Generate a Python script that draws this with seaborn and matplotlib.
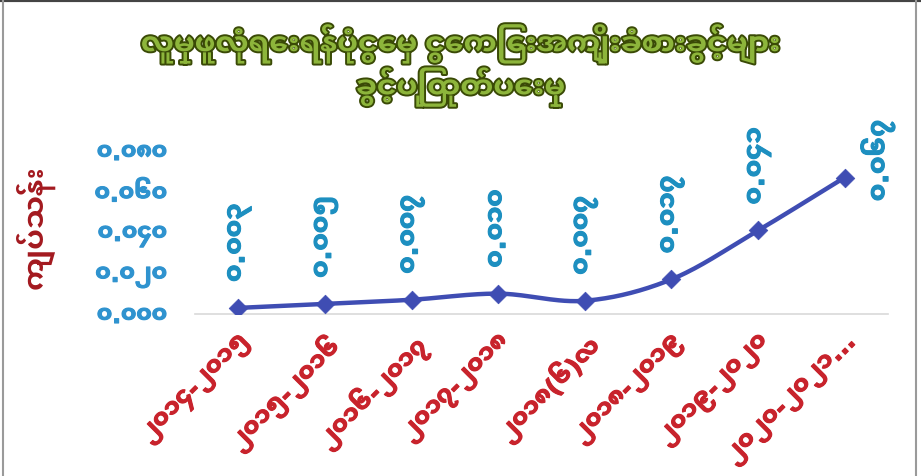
import numpy as np
import pandas as pd
import seaborn as sns
import matplotlib
matplotlib.use("Agg")
import matplotlib.pyplot as plt
import matplotlib.patheffects as pe
from matplotlib import font_manager as fm
from matplotlib.lines import Line2D

# ---------------- data ----------------
title_line1 = "လူမှုဖူလုံရေးရန်ပုံငွေမှ ငွေကြေးအကျိုးခံစားခွင့်များ"
title_line2 = "ခွင့်ပြုထုတ်ပေးမှု"
y_title = "ကျပ်သန်း"
categories = ["၂၀၁၄-၂၀၁၅", "၂၀၁၅-၂၀၁၆", "၂၀၁၆-၂၀၁၇", "၂၀၁၇-၂၀၁၈",
              "၂၀၁၈(၆)လ", "၂၀၁၈-၂၀၁၉", "၂၀၁၉-၂၀၂၀", "၂၀၂၀-၂၀၂၁..."]
values = [0.003, 0.005, 0.007, 0.010, 0.0065, 0.017, 0.041, 0.067]
value_labels = ["၀.၀၀၃", "၀.၀၀၅", "၀.၀၀၇", "၀.၀၁၀",
                "၀.၀၀၇", "၀.၀၁၇", "၀.၀၄၁", "၀.၀၆၇"]
y_ticks = [0.000, 0.020, 0.040, 0.060, 0.080]
y_tick_labels = ["၀.၀၀၀", "၀.၀၂၀", "၀.၀၄၀", "၀.၀၆၀", "၀.၀၈၀"]

# ---------------- font search (Myanmar glyphs) ----------------
families = ["DejaVu Sans"]
try:
    from fontTools.ttLib import TTFont
    cands = []
    for f in fm.fontManager.ttflist:
        try:
            tt = TTFont(f.fname, fontNumber=0, lazy=True)
            cm = tt.getBestCmap()
            if cm and 0x101C in cm and 0x1041 in cm:
                w = f.weight if isinstance(f.weight, int) else 400
                cands.append((abs(w - 700), f.name))
        except Exception:
            pass
    if cands:
        cands.sort()
        families = [cands[0][1], "DejaVu Sans"]
except Exception:
    pass

sns.set_theme(style="white")
plt.rcParams["font.family"] = families

fig = plt.figure(figsize=(9.21, 4.77), dpi=100)
renderer = fig.canvas.get_renderer()


def fit_size(s, target_px, fs0=14.0):
    t = fig.text(0, 0, s, fontsize=fs0, fontweight="bold")
    w = t.get_window_extent(renderer).width
    t.remove()
    return fs0 * target_px / max(w, 1.0)


fs_title = fit_size(title_line1, 640)
fs_ytick = fit_size(y_tick_labels[0], 70)
fs_xtick = fit_size(categories[0], 142)
fs_val = fit_size(value_labels[0], 78)
fs_ylab = fit_size(y_title, 124)

ax = fig.add_axes([0.2117, 0.3396, 0.7524, 0.3417])

x = np.arange(len(values), dtype=float)
y = np.array(values, dtype=float)


# smoothed connecting curve (Catmull-Rom, like a spreadsheet "smoothed line")
def catmull(xp, yp, n=30):
    px = np.concatenate([[2 * xp[0] - xp[1]], xp, [2 * xp[-1] - xp[-2]]])
    py = np.concatenate([[2 * yp[0] - yp[1]], yp, [2 * yp[-1] - yp[-2]]])
    xs, ys = [], []
    for i in range(1, len(px) - 2):
        t = np.linspace(0, 1, n, endpoint=False)
        for arr, out in ((px, xs), (py, ys)):
            p0, p1, p2, p3 = arr[i - 1], arr[i], arr[i + 1], arr[i + 2]
            out.append(0.5 * ((2 * p1) + (-p0 + p2) * t
                              + (2 * p0 - 5 * p1 + 4 * p2 - p3) * t ** 2
                              + (-p0 + 3 * p1 - 3 * p2 + p3) * t ** 3))
    xs = np.concatenate(xs + [[xp[-1]]])
    ys = np.concatenate(ys + [[yp[-1]]])
    return xs, ys


sx, sy = catmull(x, y)
line_color = "#3f4db3"
sns.lineplot(x=sx, y=sy, ax=ax, color=line_color, linewidth=3.2, sort=False)
sns.scatterplot(x=x, y=y, ax=ax, color=line_color, marker="D", s=90,
                edgecolor=line_color, linewidth=0.5, zorder=5)

ax.set_xlim(-0.5, len(values) - 0.5)
ax.set_ylim(0, 0.08)
ax.set_yticks(y_ticks)
tick_blue = "#2f93cf"
ax.set_yticklabels(y_tick_labels, color=tick_blue, fontsize=fs_ytick, fontweight="bold")
for t in ax.get_yticklabels():
    t.set_path_effects([pe.withStroke(linewidth=0.8, foreground=tick_blue)])
ax.set_xticks(x)
xred = "#c8232c"
ax.set_xticklabels(categories, color=xred, fontsize=fs_xtick, fontweight="bold",
                   rotation=45, ha="right", rotation_mode="anchor")
for t in ax.get_xticklabels():
    t.set_path_effects([pe.withStroke(linewidth=0.8, foreground=xred)])
ax.tick_params(axis="y", length=0, pad=20)
ax.tick_params(axis="x", length=0, pad=12)
for s in ["top", "right", "left"]:
    ax.spines[s].set_visible(False)
ax.spines["bottom"].set_color("#d9d9d9")
ax.spines["bottom"].set_linewidth(1.2)
ax.set_xlabel("")
ylab_red = "#a3191f"
ax.set_ylabel(y_title, color=ylab_red, fontsize=fs_ylab, fontweight="bold")
ax.yaxis.set_label_coords(-0.202, 0.54)
ax.grid(False)

lab_color = "#1d8fc0"
for i, (xi, yi, lab) in enumerate(zip(x, y, value_labels)):
    fx = [pe.withStroke(linewidth=0.8, foreground=lab_color)]
    if i == len(values) - 1:
        ax.annotate(lab, (xi, yi), xytext=(33, 17), textcoords="offset pixels",
                    rotation=90, ha="center", va="center", color=lab_color,
                    fontsize=fs_val, fontweight="bold", path_effects=fx)
    else:
        ax.annotate(lab, (xi, yi), xytext=(0, 26), textcoords="offset pixels",
                    rotation=90, ha="center", va="bottom", color=lab_color,
                    fontsize=fs_val, fontweight="bold", path_effects=fx)

green = "#8db53b"
title_fx = [pe.withStroke(linewidth=2.8, foreground="#3a4a06")]
fig.text(0.5, 1 - 45 / 477, title_line1, ha="center", va="center",
         fontsize=fs_title, fontweight="bold", color=green, path_effects=title_fx)
fig.text(0.5, 1 - 88 / 477, title_line2, ha="center", va="center",
         fontsize=fs_title, fontweight="bold", color=green, path_effects=title_fx)

# frame around the picture
fig.add_artist(Line2D([0, 1], [0.997, 0.997], transform=fig.transFigure,
                      color="#444444", linewidth=3))
fig.add_artist(Line2D([3 / 921, 3 / 921], [0, 1], transform=fig.transFigure,
                      color="#9a9a9a", linewidth=1.5))
fig.add_artist(Line2D([916 / 921, 916 / 921], [0, 1], transform=fig.transFigure,
                      color="#9a9a9a", linewidth=1.5))

fig.savefig("out.png", dpi=100, facecolor="white")
